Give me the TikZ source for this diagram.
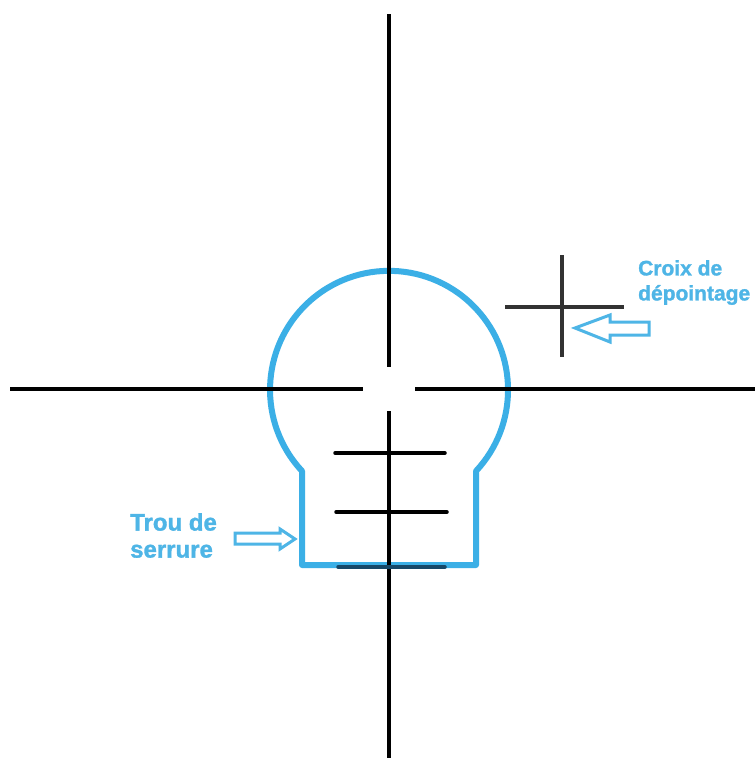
\documentclass[tikz,border=0pt]{standalone}
\usepackage{fontspec}
\setmainfont{Liberation Sans}
\newfontfamily\tagfont{Liberation Sans}[BoldFont={Liberation Sans Bold},BoldFeatures={FakeBold=1.3}]
\usetikzlibrary{positioning}
\definecolor{keyblue}{RGB}{59,175,230}
\definecolor{tagblue}{RGB}{78,181,230}
\definecolor{crossgray}{RGB}{50,50,50}
\definecolor{tickblue}{RGB}{22,72,104}

\begin{document}
\begin{tikzpicture}[x=1pt, y=-1pt,
  reticle/.style={line width=4pt, draw=black},
  keyhole/.style={line width=6pt, draw=keyblue, line join=round},
  offset/.style={line width=3.2pt, draw=crossgray},
  tick/.style={line width=3.5pt, draw=black, line cap=round},
  hollow/.style={line width=3pt, draw=tagblue, line join=miter},
  tag/.style={inner sep=0pt, anchor=north west, align=left,
              text=tagblue}
]
\useasboundingbox[fill=white] (0,0) rectangle (755,758);
% keyhole outline
\draw[keyhole] (302,565) -- (302,471)
  arc[start angle=137, end angle=403, radius=119] -- (476,565) -- cycle;
% main reticle with centre gap
\coordinate (centre) at (389,389);
\draw[reticle] (389,14)  -- (389,367);
\draw[reticle] (389,411) -- (389,760);
\draw[reticle] (10,389)  -- (363,389);
\draw[reticle] (415,389) -- (757,389);
% holdover ticks
\draw[tick] (335,453) -- (445,453);
\draw[tick] (336,512) -- (447,512);
\draw[tick, draw=tickblue] (338,567) -- (445,567);
% offset cross
\coordinate (offset) at (562,307);
\draw[offset] (562,255) -- (562,357);
\draw[offset] (505,307) -- (624,307);
% labels
\node[tag, font=\tagfont\fontsize{21}{25}\selectfont\bfseries] (croix) at (638,260)
  {Croix de\\dépointage};
\node[tag, font=\tagfont\fontsize{24}{27}\selectfont\bfseries] (trou) at (130,513)
  {Trou de\\serrure};
% hollow arrows
\coordinate (croixtip) at (575,328);
\draw[hollow] (croixtip) -- ++(35,-13) -- ++(0,7) -- ++(39,0)
  -- ++(0,13) -- ++(-39,0) -- ++(0,7) -- cycle;
\coordinate (troutip) at (295,539);
\draw[hollow] (troutip) -- ++(-15,-10) -- ++(0,4) -- ++(-45,0)
  -- ++(0,11) -- ++(45,0) -- ++(0,5) -- cycle;
\end{tikzpicture}
\end{document}
